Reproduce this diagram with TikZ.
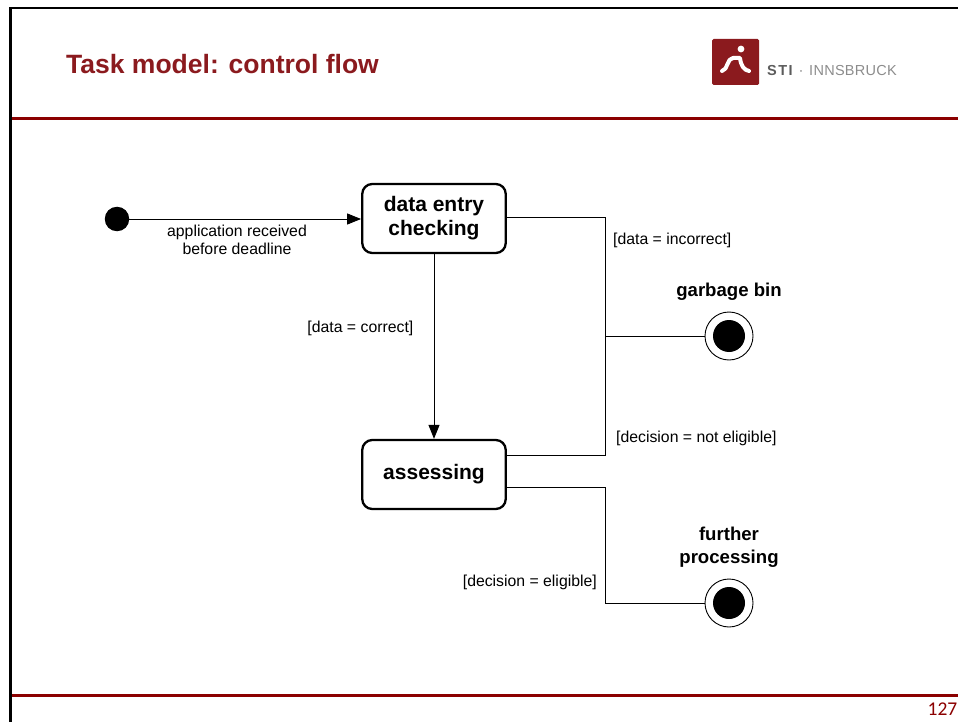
\documentclass[tikz,border=0pt]{standalone}
\usepackage{fontspec}
\setmainfont{Liberation Sans}
\newfontfamily\numfont{Carlito}
\usetikzlibrary{arrows.meta, positioning, calc}
\definecolor{stired}{HTML}{8B1A1E}
\definecolor{rulered}{HTML}{8B0000}
\definecolor{logogray}{HTML}{5C5C5C}
\definecolor{logolight}{HTML}{8C8C8C}
\tikzset{
  statebox/.style={draw, line width=2.3pt, rounded corners=10pt, align=center, inner sep=0pt,
    minimum width=143.5pt, minimum height=69pt, font=\fontsize{21}{24}\selectfont\bfseries},
  flow/.style={line width=0.9pt, -{Triangle[length=14pt,width=11pt]}},
  branch/.style={line width=0.9pt},
  guard/.style={font=\fontsize{15.8}{18}\selectfont, inner sep=0pt, align=center},
  statelabel/.style={font=\fontsize{18.6}{23}\selectfont\bfseries, inner sep=0pt, align=center},
  endring/.style={draw, circle, line width=0.9pt, minimum size=48pt, inner sep=0pt},
}

\begin{document}
\begin{tikzpicture}[x=1pt, y=-1pt]
        \useasboundingbox (0,0) rectangle (958,722);

        % slide frame and header
        \draw[line width=2.5pt] (10.3,722) -- (10.3,8) -- (958,8);
        \draw[rulered, line width=3pt] (11.5,118.5) -- (958,118.5);
        \draw[rulered, line width=3pt] (11.5,695) -- (958,695);
        \node[anchor=base west, text=stired, inner sep=0pt, font=\fontsize{26.5}{30}\selectfont\bfseries] (title) at (66,74) {Task model: control flow};

        \fill[stired, rounded corners=1.5pt] (712,39) rectangle (759,85);
        \fill[white] (741,49) circle (3.4pt);
        \draw[white, line width=4pt, line cap=round, line join=round] (722,71) .. controls (728,70) and (727,58) .. (733,58) -- (740,58) .. controls (741,66) and (744,70) .. (749,71);
        \node[anchor=base west, text=logogray, inner sep=0pt, font=\fontsize{14.5}{16}\selectfont\bfseries] (sti) at (767,75.7) {\addfontfeatures{LetterSpace=10}STI};
        \node[anchor=base, text=logolight, inner sep=0pt, font=\fontsize{15}{16}\selectfont] (dot) at (801,75.7) {·};
        \node[anchor=base west, text=logolight, inner sep=0pt, font=\fontsize{14.5}{16}\selectfont] (ibk) at (809,75.7) {\addfontfeatures{LetterSpace=2}INNSBRUCK};
        \node[anchor=base east, text=rulered, inner sep=0pt, font=\numfont\fontsize{19.5}{22}\selectfont] (pageno) at (957.5,715) {127};

        % states
        \node[circle, fill, minimum size=24.5pt, inner sep=0pt] (start) at (117,219) {};
        \node[statebox] (check) at (434,218.5) {data entry\\checking};
        \node[statebox] (assess) at (434,474.5) {assessing};
        \node[endring] (bin) at (729,336) {};
        \fill (bin.center) circle (16pt);
        \node[endring] (done) at (729,603) {};
        \fill (done.center) circle (16pt);
        \node[statelabel] (binlabel) at (729,292) {garbage bin};
        \node[statelabel] (donelabel) at (729,547.5) {further\\processing};

        % transitions
        \coordinate (split) at (605,336);
        \draw[flow] (start) -- (start -| check.west);
        \draw[flow] (check) -- (assess);
        \draw[branch] ([yshift=1.5pt]check.east) -| (split) -- (bin);
        \draw[branch] ([yshift=19pt]assess.east) -| (split);
        \draw[branch] ([yshift=-13pt]assess.east) -| (split |- done) -- (done);

        \node[guard] (received) at (237,240) {application received\\before deadline};
        \node[guard, anchor=east] (correct) at (413.5,328) {[data = correct]};
        \node[guard, anchor=west] (incorrect) at (613,240) {[data = incorrect]};
        \node[guard, anchor=west] (noteligible) at (616,438.5) {[decision = not eligible]};
        \node[guard, anchor=east] (eligible) at (597,582.5) {[decision = eligible]};
\end{tikzpicture}
\end{document}
